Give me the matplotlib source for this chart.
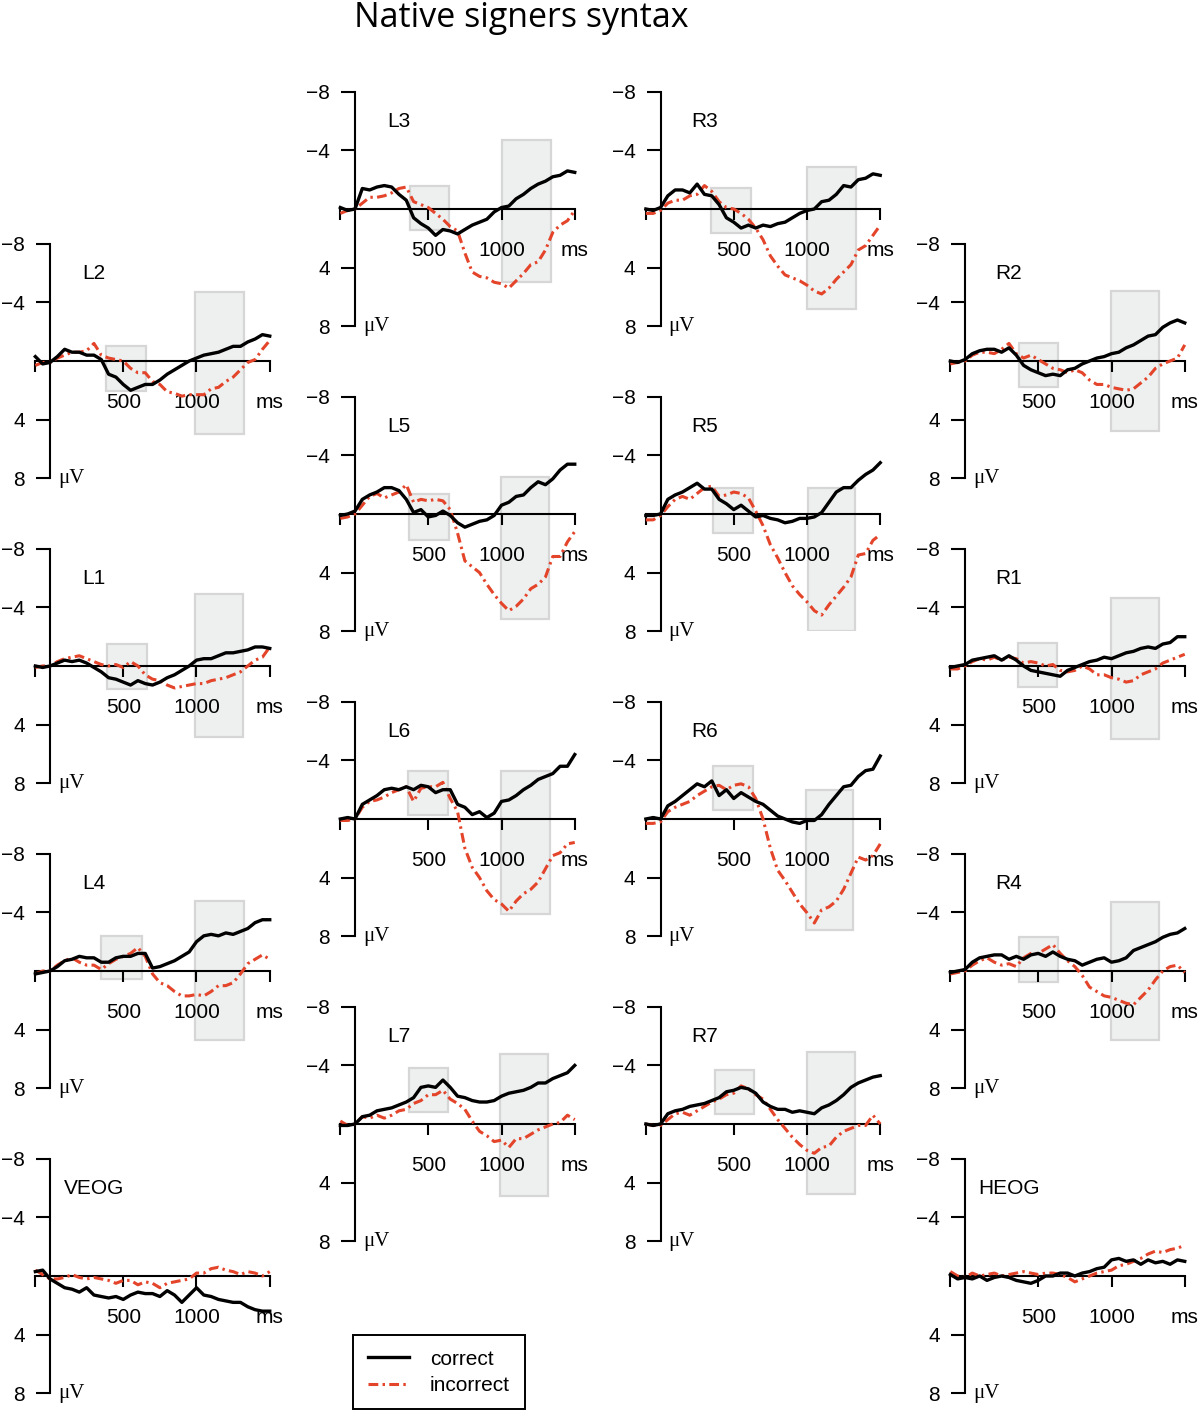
import matplotlib
matplotlib.use("Agg")
import matplotlib.pyplot as plt
from matplotlib.patches import Rectangle
from matplotlib.lines import Line2D

plt.rcParams['font.family'] = ['Liberation Sans', 'DejaVu Sans']

# ---------------- data (µV, negative plotted upward) ----------------
TIMES = [-100, -50, 0, 50, 100, 150, 200, 250, 300, 350, 400, 450, 500, 550, 600, 650,
         700, 750, 800, 850, 900, 950, 1000, 1050, 1100, 1150, 1200, 1250, 1300, 1350,
         1400, 1450, 1500]
XTICKS = [-100, 500, 1000, 1500]
XTICKLABELS = ['', '500', '1000', 'ms']
YTICKS = [-8, -4, 4, 8]
LEGEND_LABELS = ['correct', 'incorrect']
TITLE = 'Native signers syntax'

L3_correct = [-0.1, 0.1, 0.0, -1.4, -1.3, -1.5, -1.6, -1.5, -1.0, -0.6, 0.6, 1.0, 1.3, 1.8, 1.4, 1.5, 1.7, 1.4, 1.1, 0.9, 0.7, 0.2, -0.1, -0.2, -0.7, -1.0, -1.4, -1.7, -1.9, -2.2, -2.3, -2.6, -2.5]
L3_incorrect = [0.3, 0.1, 0.0, -0.4, -0.8, -0.8, -0.9, -1.1, -1.4, -1.5, -0.5, -0.3, -0.1, 0.3, 0.7, 1.2, 1.5, 3.0, 4.3, 4.6, 4.7, 5.0, 5.1, 5.4, 4.9, 4.4, 3.8, 3.6, 2.8, 1.6, 1.1, 0.8, 0.1]
R3_correct = [0.0, 0.1, -0.1, -0.9, -1.3, -1.3, -1.1, -1.7, -1.0, -0.9, -0.3, 0.6, 0.9, 1.3, 1.1, 1.3, 1.1, 1.2, 1.0, 0.9, 0.6, 0.3, 0.1, 0.0, -0.5, -0.6, -1.0, -1.6, -1.5, -2.0, -2.1, -2.4, -2.3]
R3_incorrect = [0.3, 0.3, 0.1, -0.4, -0.6, -0.6, -0.9, -1.0, -1.6, -1.2, -0.5, -0.1, 0.0, 0.3, 0.7, 1.3, 2.1, 3.2, 3.9, 4.5, 4.7, 4.9, 5.2, 5.6, 5.8, 5.4, 4.8, 4.3, 3.8, 2.8, 2.5, 1.8, 1.1]
L5_correct = [0.1, 0.0, -0.2, -1.0, -1.3, -1.5, -1.8, -1.8, -1.6, -1.0, -0.1, -0.3, 0.2, 0.1, -0.2, 0.1, 0.6, 0.9, 0.7, 0.5, 0.4, 0.1, -0.6, -0.8, -1.2, -1.3, -1.8, -2.2, -2.0, -2.4, -3.0, -3.4, -3.4]
L5_incorrect = [0.3, 0.2, 0.0, -0.6, -1.2, -1.4, -1.1, -1.3, -1.5, -2.0, -0.8, -1.0, -0.9, -1.0, -0.9, -0.3, 1.3, 3.2, 3.6, 4.0, 4.8, 5.5, 6.1, 6.6, 6.3, 5.8, 5.1, 4.8, 4.3, 2.9, 2.9, 1.9, 1.2]
R5_correct = [0.1, 0.1, 0.0, -1.0, -1.3, -1.5, -1.8, -2.1, -1.7, -1.7, -1.0, -0.7, -0.3, -0.6, -0.2, 0.2, 0.1, 0.3, 0.4, 0.6, 0.5, 0.3, 0.3, 0.2, -0.1, -0.8, -1.5, -1.8, -1.8, -2.3, -2.7, -3.0, -3.5]
R5_incorrect = [0.4, 0.4, 0.1, -0.5, -1.0, -1.2, -1.0, -1.4, -1.8, -1.9, -1.2, -1.3, -1.5, -1.4, -1.1, -0.2, 0.8, 2.1, 3.0, 4.0, 4.9, 5.5, 6.0, 6.6, 6.9, 6.2, 5.6, 5.0, 4.3, 2.8, 2.7, 1.8, 1.4]
L6_correct = [0.0, -0.1, 0.0, -1.0, -1.3, -1.6, -2.0, -2.1, -2.0, -2.2, -2.0, -2.3, -2.2, -1.8, -2.0, -2.0, -1.0, -0.8, -0.3, -0.5, -0.1, -0.4, -1.2, -1.3, -1.6, -2.0, -2.3, -2.7, -2.9, -3.1, -3.6, -3.6, -4.4]
L6_incorrect = [0.1, 0.1, 0.0, -0.8, -1.2, -1.3, -1.5, -1.8, -2.0, -2.2, -1.2, -2.1, -2.2, -2.2, -2.5, -1.4, -0.5, 2.0, 3.3, 4.0, 4.9, 5.5, 5.8, 6.3, 5.6, 5.1, 4.8, 4.3, 3.4, 2.5, 2.3, 1.7, 1.6]
R6_correct = [0.0, -0.1, 0.0, -0.9, -1.2, -1.6, -2.0, -2.4, -2.2, -2.6, -1.6, -2.0, -1.4, -1.8, -1.5, -1.2, -1.0, -0.6, -0.2, 0.0, 0.2, 0.3, 0.1, 0.1, -0.3, -1.0, -1.6, -2.2, -2.3, -2.9, -3.3, -3.4, -4.3]
R6_incorrect = [0.3, 0.3, 0.2, -0.5, -0.8, -1.0, -1.2, -1.6, -1.9, -2.2, -2.3, -2.0, -2.3, -2.4, -2.2, -1.4, 0.0, 2.0, 3.5, 4.2, 5.0, 5.8, 6.4, 7.1, 6.2, 6.0, 5.6, 4.8, 3.7, 2.6, 2.8, 2.5, 1.7]
L7_correct = [0.1, 0.1, 0.0, -0.5, -0.6, -0.9, -1.0, -1.1, -1.3, -1.5, -1.8, -2.5, -2.6, -2.5, -3.0, -2.5, -1.9, -1.8, -1.6, -1.5, -1.5, -1.6, -1.9, -2.1, -2.2, -2.3, -2.5, -2.8, -2.8, -3.1, -3.3, -3.5, -4.0]
L7_incorrect = [-0.2, 0.1, 0.0, -0.5, -0.4, -0.6, -0.4, -0.6, -0.9, -1.0, -1.4, -1.6, -2.0, -2.0, -2.3, -1.7, -1.4, -1.0, -0.2, 0.5, 0.8, 1.2, 1.1, 1.6, 1.0, 1.0, 0.7, 0.4, 0.2, 0.0, -0.1, -0.6, -0.3]
R7_correct = [0.0, 0.1, 0.0, -0.7, -0.9, -1.0, -1.2, -1.3, -1.4, -1.6, -1.8, -2.2, -2.3, -2.5, -2.4, -2.1, -1.5, -1.2, -1.0, -1.0, -0.8, -0.9, -0.8, -0.7, -1.1, -1.3, -1.6, -2.0, -2.5, -2.8, -3.0, -3.2, -3.3]
R7_incorrect = [0.0, 0.1, 0.1, -0.3, -0.7, -0.8, -0.6, -0.9, -1.2, -1.5, -1.7, -2.0, -2.1, -2.6, -2.4, -2.0, -1.7, -1.0, -0.3, 0.3, 0.9, 1.4, 1.8, 2.0, 1.6, 1.5, 0.9, 0.5, 0.3, 0.1, 0.1, -0.6, 0.0]
L2_correct = [-0.3, 0.2, 0.1, -0.3, -0.8, -0.6, -0.6, -0.4, -0.4, -0.1, 0.9, 1.1, 1.6, 2.0, 1.8, 1.6, 1.6, 1.3, 0.9, 0.6, 0.3, 0.0, -0.2, -0.4, -0.5, -0.6, -0.8, -1.0, -1.0, -1.3, -1.5, -1.8, -1.7]
L2_incorrect = [0.3, 0.1, 0.1, -0.2, -0.4, -0.6, -0.6, -0.7, -1.2, -0.4, -0.2, -0.1, 0.0, 0.5, 0.8, 0.8, 1.4, 1.6, 2.1, 2.2, 2.4, 2.3, 2.3, 2.3, 1.9, 1.8, 1.4, 1.1, 0.6, 0.1, -0.1, -0.8, -1.4]
L1_correct = [0.0, 0.1, 0.0, -0.2, -0.4, -0.3, -0.4, -0.2, 0.1, 0.4, 0.8, 0.9, 1.1, 1.3, 1.0, 1.2, 1.3, 1.1, 0.8, 0.6, 0.3, 0.0, -0.4, -0.5, -0.5, -0.7, -0.9, -0.9, -1.0, -1.1, -1.3, -1.3, -1.2]
L1_incorrect = [0.1, 0.0, 0.0, -0.3, -0.5, -0.6, -0.7, -0.5, -0.3, -0.1, 0.0, -0.1, 0.1, -0.3, 0.0, 0.6, 0.9, 1.0, 1.3, 1.5, 1.4, 1.3, 1.2, 1.2, 1.0, 0.9, 0.8, 0.6, 0.4, 0.0, -0.4, -0.6, -1.3]
L4_correct = [0.2, 0.1, 0.0, -0.3, -0.7, -0.8, -1.0, -0.9, -0.9, -0.6, -0.6, -0.9, -1.0, -1.0, -1.2, -1.2, -0.2, -0.3, -0.5, -0.7, -1.0, -1.3, -2.0, -2.4, -2.5, -2.4, -2.6, -2.5, -2.7, -2.9, -3.3, -3.5, -3.5]
L4_incorrect = [0.2, 0.0, 0.0, -0.4, -0.7, -0.9, -0.6, -0.4, -0.4, -0.1, -0.5, -0.8, -1.0, -1.2, -1.6, -1.0, 0.2, 0.8, 1.0, 1.4, 1.7, 1.7, 1.6, 1.7, 1.4, 1.0, 1.0, 0.8, 0.2, -0.5, -0.8, -1.1, -0.8]
VEOG_correct = [-0.3, -0.4, 0.2, 0.5, 0.8, 0.9, 1.1, 0.8, 1.3, 1.4, 1.5, 1.4, 1.6, 1.3, 1.1, 1.2, 1.2, 1.4, 1.0, 1.3, 1.8, 1.3, 0.8, 1.3, 1.4, 1.6, 1.7, 1.8, 1.8, 2.1, 2.3, 2.4, 2.4]
VEOG_incorrect = [-0.4, -0.1, 0.2, 0.2, 0.1, -0.1, 0.1, 0.2, 0.1, 0.2, 0.3, 0.5, 0.3, 0.3, 0.6, 0.4, 0.5, 0.8, 0.5, 0.4, 0.3, 0.2, -0.2, -0.2, -0.5, -0.6, -0.4, -0.3, -0.1, -0.3, -0.2, 0.0, -0.3]
R2_correct = [0.0, 0.1, -0.1, -0.5, -0.7, -0.8, -0.8, -0.6, -0.9, -0.4, 0.3, 0.6, 0.8, 1.0, 0.9, 1.0, 0.6, 0.5, 0.2, 0.0, -0.2, -0.3, -0.5, -0.6, -0.9, -1.1, -1.4, -1.7, -1.8, -2.3, -2.6, -2.8, -2.6]
R2_incorrect = [0.2, 0.1, 0.0, -0.4, -0.6, -0.6, -0.5, -0.8, -1.2, -0.5, -0.2, -0.4, -0.1, 0.2, 0.5, 0.6, 0.8, 0.6, 0.8, 1.3, 1.6, 1.6, 1.8, 1.9, 2.0, 1.9, 1.5, 1.1, 0.5, 0.2, 0.0, -0.2, -1.1]
R1_correct = [0.1, 0.0, -0.1, -0.4, -0.5, -0.6, -0.7, -0.4, -0.7, -0.4, 0.0, 0.3, 0.4, 0.5, 0.6, 0.7, 0.3, 0.1, -0.1, -0.3, -0.4, -0.6, -0.5, -0.7, -0.9, -1.0, -1.2, -1.3, -1.2, -1.5, -1.6, -2.0, -2.0]
R1_incorrect = [0.2, 0.2, 0.0, -0.3, -0.5, -0.4, -0.6, -0.4, -0.6, -0.5, -0.2, -0.3, -0.2, 0.0, -0.1, 0.3, 0.4, 0.3, 0.0, 0.2, 0.6, 0.6, 0.8, 0.9, 1.1, 1.0, 0.6, 0.4, 0.2, -0.2, -0.4, -0.6, -0.8]
R4_correct = [0.1, 0.0, -0.1, -0.6, -0.9, -1.0, -1.1, -1.1, -0.8, -1.0, -0.8, -1.1, -1.2, -1.0, -1.3, -1.0, -0.8, -0.7, -0.4, -0.6, -0.8, -0.9, -0.6, -0.7, -0.9, -1.4, -1.6, -1.8, -2.0, -2.3, -2.5, -2.6, -2.9]
R4_incorrect = [0.2, 0.1, 0.0, -0.4, -0.7, -0.9, -0.6, -0.4, -0.5, -0.3, -0.9, -1.2, -1.2, -1.5, -1.8, -1.2, -0.7, -0.3, 0.3, 1.1, 1.4, 1.7, 1.8, 2.0, 2.2, 2.3, 1.8, 1.3, 0.6, 0.0, -0.3, -0.4, 0.1]
HEOG_correct = [-0.1, 0.2, 0.1, 0.2, 0.0, 0.3, 0.1, 0.0, 0.1, 0.3, 0.4, 0.5, 0.3, 0.0, 0.0, -0.2, -0.2, 0.0, -0.2, -0.3, -0.5, -0.6, -1.1, -1.2, -1.0, -1.1, -0.8, -1.1, -0.9, -1.0, -0.8, -1.1, -1.0]
HEOG_incorrect = [-0.3, 0.0, 0.1, -0.2, 0.0, -0.1, -0.2, 0.0, -0.1, -0.2, -0.3, -0.2, -0.1, -0.2, -0.2, -0.1, 0.1, 0.4, 0.2, 0.0, -0.2, -0.3, -0.4, -0.7, -0.8, -1.0, -1.2, -1.5, -1.7, -1.6, -1.8, -1.9, -2.1]

# analysis windows: (t start, t end, µV top, µV bottom)
L3_boxes = [(375, 640, -1.55, 1.45), (1005, 1340, -4.7, 5.0)]
R3_boxes = [(345, 615, -1.4, 1.65), (1000, 1333, -2.9, 6.8)]
L5_boxes = [(371, 644, -1.35, 1.75), (995, 1327, -2.5, 7.2)]
R5_boxes = [(360, 633, -1.75, 1.3), (1005, 1331, -1.75, 8.0)]
L6_boxes = [(361, 634, -3.3, -0.3), (998, 1332, -3.25, 6.5)]
R6_boxes = [(360, 628, -3.6, -0.6), (990, 1316, -2.0, 7.6)]
L7_boxes = [(366, 634, -3.8, -0.8), (988, 1320, -4.75, 4.9)]
R7_boxes = [(370, 640, -3.7, -0.65), (998, 1328, -4.9, 4.8)]
L2_boxes = [(383, 654, -1.0, 2.05), (992, 1322, -4.7, 5.0)]
L1_boxes = [(388, 661, -1.5, 1.55), (987, 1318, -4.9, 4.85)]
L4_boxes = [(349, 627, -2.4, 0.55), (992, 1322, -4.8, 4.7)]
R2_boxes = [(369, 637, -1.2, 1.75), (997, 1325, -4.8, 4.8)]
R1_boxes = [(360, 630, -1.6, 1.45), (997, 1327, -4.65, 5.0)]
R4_boxes = [(369, 637, -2.3, 0.75), (997, 1327, -4.7, 4.7)]
VEOG_boxes = []
HEOG_boxes = []

# ---------------- layout ----------------
W, H = 1200, 1415
PX_MS = 0.1465
PX_UV = 14.65
COL_X = [50, 355, 660.5, 965]
ROWS_OUTER = [361, 666, 971, 1276]
ROWS_INNER = [209, 514, 819, 1124]

panels = [
    ('L2', L2_correct, L2_incorrect, L2_boxes, 0, ROWS_OUTER[0]),
    ('L1', L1_correct, L1_incorrect, L1_boxes, 0, ROWS_OUTER[1]),
    ('L4', L4_correct, L4_incorrect, L4_boxes, 0, ROWS_OUTER[2]),
    ('VEOG', VEOG_correct, VEOG_incorrect, VEOG_boxes, 0, ROWS_OUTER[3]),
    ('L3', L3_correct, L3_incorrect, L3_boxes, 1, ROWS_INNER[0]),
    ('L5', L5_correct, L5_incorrect, L5_boxes, 1, ROWS_INNER[1]),
    ('L6', L6_correct, L6_incorrect, L6_boxes, 1, ROWS_INNER[2]),
    ('L7', L7_correct, L7_incorrect, L7_boxes, 1, ROWS_INNER[3]),
    ('R3', R3_correct, R3_incorrect, R3_boxes, 2, ROWS_INNER[0]),
    ('R5', R5_correct, R5_incorrect, R5_boxes, 2, ROWS_INNER[1]),
    ('R6', R6_correct, R6_incorrect, R6_boxes, 2, ROWS_INNER[2]),
    ('R7', R7_correct, R7_incorrect, R7_boxes, 2, ROWS_INNER[3]),
    ('R2', R2_correct, R2_incorrect, R2_boxes, 3, ROWS_OUTER[0]),
    ('R1', R1_correct, R1_incorrect, R1_boxes, 3, ROWS_OUTER[1]),
    ('R4', R4_correct, R4_incorrect, R4_boxes, 3, ROWS_OUTER[2]),
    ('HEOG', HEOG_correct, HEOG_incorrect, HEOG_boxes, 3, ROWS_OUTER[3]),
]

RED = '#E3442A'
RED_LW = 2.2
RED_DASH = (3.2, 1.4, 0.8, 1.4)
BLACK_LW = 2.4
FS = 15

fig = plt.figure(figsize=(W / 100, H / 100), dpi=100)

for name, corr, inc, boxes, col, zero_y in panels:
    x0 = COL_X[col]
    left = x0 - 100 * PX_MS
    width = 1600 * PX_MS
    height = 16 * PX_UV
    bottom = H - (zero_y + 8 * PX_UV)
    ax = fig.add_axes([left / W, bottom / H, width / W, height / H])
    ax.set_xlim(-100, 1500)
    ax.set_ylim(8, -8)
    ax.patch.set_visible(False)
    for s in ('top', 'right'):
        ax.spines[s].set_visible(False)
    ax.spines['left'].set_position(('data', 0))
    ax.spines['bottom'].set_position(('data', 0))
    for s in ('left', 'bottom'):
        ax.spines[s].set_linewidth(1.5)
        ax.spines[s].set_zorder(2.5)
    ax.set_yticks(YTICKS)
    ax.set_yticklabels([f'\u2212{abs(v)}' if v < 0 else str(v) for v in YTICKS])
    ax.set_xticks(XTICKS)
    ax.set_xticklabels(XTICKLABELS)
    ax.tick_params(axis='y', direction='out', length=10, width=1.5, pad=8, labelsize=FS)
    ax.tick_params(axis='x', direction='out', length=8, width=1.5, pad=15, labelsize=FS)

    for (t0, t1, v0, v1) in boxes:
        ax.add_patch(Rectangle((t0, v0), t1 - t0, v1 - v0, facecolor='#EEEFEF',
                               edgecolor='#D6D6D6', lw=1.6, zorder=1))

    ax.plot(TIMES, inc, color=RED, lw=RED_LW, dashes=RED_DASH, dash_capstyle='butt',
            zorder=3, clip_on=False)
    ax.plot(TIMES, corr, color='black', lw=BLACK_LW, zorder=3.5, clip_on=False)

    ax.text(300, -6, name, ha='center', va='center', fontsize=FS)
    ax.text(55, 8.05, '\u03bcV', ha='left', va='center', fontsize=FS,
            family=['Liberation Serif', 'DejaVu Serif'])

fig.text(521.5 / W, 1 - 27 / H, TITLE, ha='center', va='baseline', fontsize=24.5,
         family=['Open Sans', 'DejaVu Sans'])

handles = [Line2D([], [], color='black', lw=BLACK_LW),
           Line2D([], [], color=RED, lw=RED_LW, dashes=RED_DASH, dash_capstyle='butt')]
leg = fig.legend(handles, LEGEND_LABELS, loc='upper left',
                 bbox_to_anchor=(353 / W, 1 - 1335 / H), frameon=True, fancybox=False,
                 edgecolor='black', framealpha=1, fontsize=FS, handlelength=2.0,
                 handletextpad=1.0, borderpad=0.7, labelspacing=0.35, borderaxespad=0)
leg.get_frame().set_linewidth(1.4)

fig.savefig('out.png', dpi=100)
